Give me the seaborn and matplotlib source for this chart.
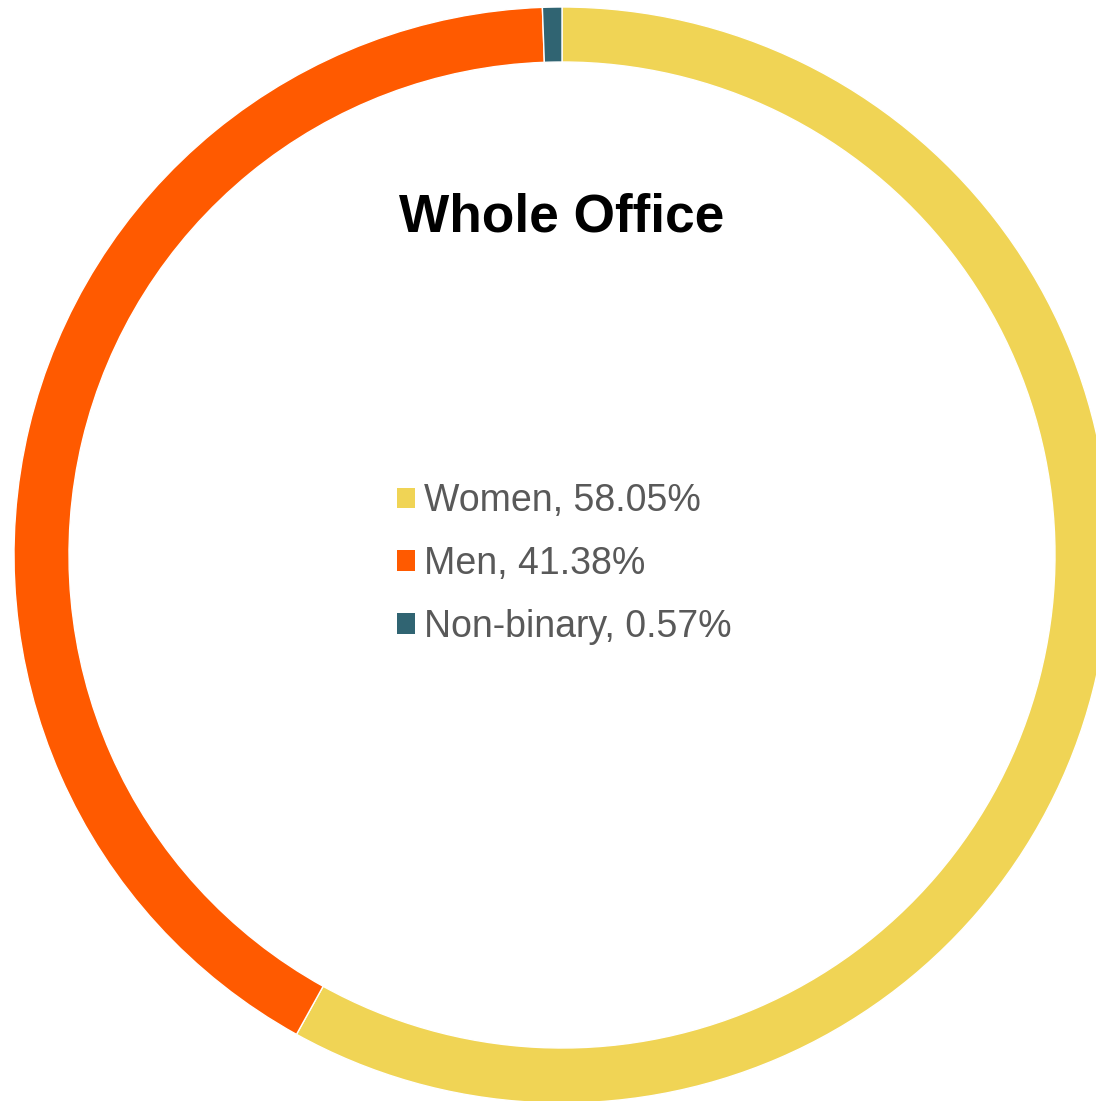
import matplotlib
matplotlib.use("Agg")
import matplotlib.pyplot as plt
import seaborn as sns
from matplotlib.patches import Patch

labels = ["Women", "Men", "Non-binary"]
shares = [58.05, 41.38, 0.57]
colors = ["#F0D455", "#FF5A00", "#306472"]
title = "Whole Office"

sns.set_theme(style="white")
plt.rcParams['font.family'] = ['Liberation Sans', 'DejaVu Sans']

W, H = 1096, 1101
fig = plt.figure(figsize=(W / 100, H / 100), dpi=100)
ax = fig.add_axes([0, 0, 1, 1])

cx, cy = 562, H - 555
ax.pie(shares, colors=colors, startangle=90, counterclock=False,
       center=(cx, cy), radius=548, frame=True,
       wedgeprops=dict(width=55, edgecolor="white", linewidth=1))
ax.set_xlim(0, W)
ax.set_ylim(0, H)
ax.axis("off")

ax.text(cx, H - 232, title, ha="center", va="baseline",
        fontsize=38.3, fontweight="bold", color="black")

handles = [Patch(facecolor=c, edgecolor="none") for c in colors]
texts = [f"{l}, {s:.2f}%" for l, s in zip(labels, shares)]
ax.legend(handles, texts, loc="center left", bbox_to_anchor=(397, H - 564),
          bbox_transform=ax.transData, frameon=False, fontsize=27,
          labelcolor="#595959", borderpad=0, borderaxespad=0,
          handlelength=0.48, handleheight=0.48, handletextpad=0.25,
          labelspacing=0.71)

fig.savefig("out.png", dpi=100)
